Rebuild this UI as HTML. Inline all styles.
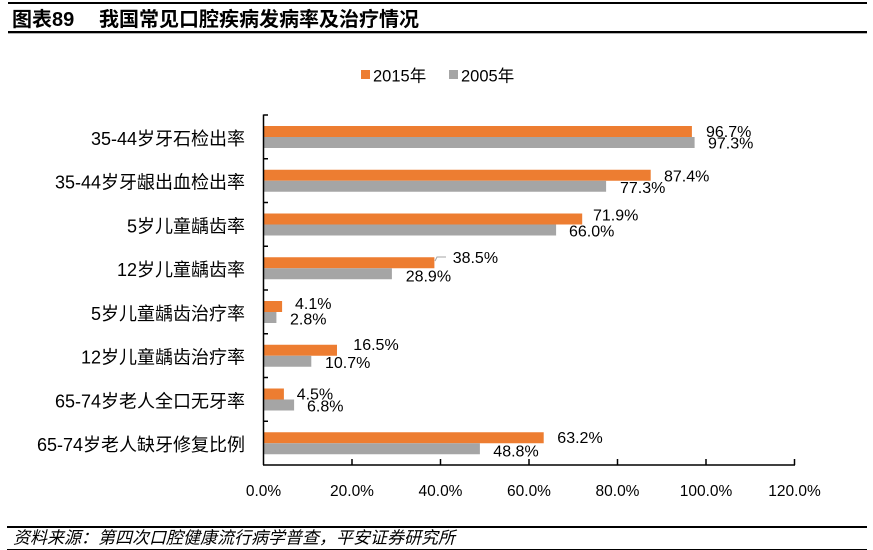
<!DOCTYPE html>
<html>
<head>
<meta charset="utf-8">
<style>
html,body{margin:0;padding:0;background:#fff;}
svg{display:block;}
text{font-family:"Liberation Sans","Noto Sans CJK SC",sans-serif;fill:#000;}
</style>
</head>
<body>
<svg width="873" height="550" viewBox="0 0 873 550" xmlns="http://www.w3.org/2000/svg">
  <!-- header -->
  <rect x="8" y="2" width="859" height="2" fill="#000"/>
  <text x="12" y="26" font-size="20" font-weight="bold">图表89</text>
  <text x="99" y="26" font-size="20" font-weight="bold">我国常见口腔疾病发病率及治疗情况</text>
  <rect x="8" y="31" width="859" height="2.3" fill="#000"/>

  <!-- legend -->
  <rect x="361" y="70" width="9" height="9" fill="#ED7D31"/>
  <text x="373" y="81.5" font-size="16.5">2015年</text>
  <rect x="449" y="70" width="9" height="9" fill="#A5A5A5"/>
  <text x="461" y="81.5" font-size="16.5">2005年</text>

  <!-- bars -->
  <g>
    <rect x="264" y="126" width="427.9" height="11" fill="#ED7D31"/>
    <rect x="264" y="137" width="430.6" height="11" fill="#A5A5A5"/>
    <rect x="264" y="169.75" width="386.7" height="11" fill="#ED7D31"/>
    <rect x="264" y="180.75" width="342.1" height="11" fill="#A5A5A5"/>
    <rect x="264" y="213.5" width="318.2" height="11" fill="#ED7D31"/>
    <rect x="264" y="224.5" width="292.1" height="11" fill="#A5A5A5"/>
    <rect x="264" y="257.25" width="170.4" height="11" fill="#ED7D31"/>
    <rect x="264" y="268.25" width="127.9" height="11" fill="#A5A5A5"/>
    <rect x="264" y="301" width="18.1" height="11" fill="#ED7D31"/>
    <rect x="264" y="312" width="12.4" height="11" fill="#A5A5A5"/>
    <rect x="264" y="344.75" width="73" height="11" fill="#ED7D31"/>
    <rect x="264" y="355.75" width="47.3" height="11" fill="#A5A5A5"/>
    <rect x="264" y="388.5" width="19.9" height="11" fill="#ED7D31"/>
    <rect x="264" y="399.5" width="30.1" height="11" fill="#A5A5A5"/>
    <rect x="264" y="432.25" width="279.7" height="11" fill="#ED7D31"/>
    <rect x="264" y="443.25" width="215.9" height="11" fill="#A5A5A5"/>
  </g>

  <!-- axes -->
  <g stroke="#000" stroke-width="1.5" fill="none">
    <line x1="263.5" y1="114.5" x2="263.5" y2="465"/>
    <line x1="263" y1="465" x2="795" y2="465"/>
    <line x1="263.5" y1="115" x2="268" y2="115"/>
    <line x1="263.5" y1="158.75" x2="268" y2="158.75"/>
    <line x1="263.5" y1="202.5" x2="268" y2="202.5"/>
    <line x1="263.5" y1="246.25" x2="268" y2="246.25"/>
    <line x1="263.5" y1="290" x2="268" y2="290"/>
    <line x1="263.5" y1="333.75" x2="268" y2="333.75"/>
    <line x1="263.5" y1="377.5" x2="268" y2="377.5"/>
    <line x1="263.5" y1="421.25" x2="268" y2="421.25"/>
    <line x1="352" y1="459" x2="352" y2="465"/>
    <line x1="440.5" y1="459" x2="440.5" y2="465"/>
    <line x1="529" y1="459" x2="529" y2="465"/>
    <line x1="617.5" y1="459" x2="617.5" y2="465"/>
    <line x1="706" y1="459" x2="706" y2="465"/>
    <line x1="794.5" y1="459" x2="794.5" y2="465"/>
  </g>

  <!-- leader line for 38.5% -->
  <polyline points="435,261 437,257 446,257" stroke="#A5A5A5" stroke-width="1" fill="none"/>

  <!-- x tick labels -->
  <g font-size="15.5" text-anchor="middle">
    <text x="263.5" y="496">0.0%</text>
    <text x="352" y="496">20.0%</text>
    <text x="440.5" y="496">40.0%</text>
    <text x="529" y="496">60.0%</text>
    <text x="617.5" y="496">80.0%</text>
    <text x="706" y="496">100.0%</text>
    <text x="794.5" y="496">120.0%</text>
  </g>

  <!-- category labels -->
  <g font-size="18" text-anchor="end">
    <text x="245" y="145">35-44岁牙石检出率</text>
    <text x="245" y="188.7">35-44岁牙龈出血检出率</text>
    <text x="245" y="232.4">5岁儿童龋齿率</text>
    <text x="245" y="276.1">12岁儿童龋齿率</text>
    <text x="245" y="319.9">5岁儿童龋齿治疗率</text>
    <text x="245" y="363.6">12岁儿童龋齿治疗率</text>
    <text x="245" y="407.4">65-74岁老人全口无牙率</text>
    <text x="245" y="451.1">65-74岁老人缺牙修复比例</text>
  </g>

  <!-- data labels -->
  <g font-size="16">
    <text x="706" y="137.2">96.7%</text>
    <text x="708" y="148.7">97.3%</text>
    <text x="664" y="181.7">87.4%</text>
    <text x="620" y="193.2">77.3%</text>
    <text x="593" y="220.4">71.9%</text>
    <text x="569" y="236.5">66.0%</text>
    <text x="452.7" y="263.2">38.5%</text>
    <text x="405.7" y="281.5">28.9%</text>
    <text x="295" y="309">4.1%</text>
    <text x="290" y="324.4">2.8%</text>
    <text x="353.3" y="349.9">16.5%</text>
    <text x="325" y="367.9">10.7%</text>
    <text x="296.7" y="399.4">4.5%</text>
    <text x="307" y="411.5">6.8%</text>
    <text x="557.3" y="443.2">63.2%</text>
    <text x="493.3" y="456.5">48.8%</text>
  </g>

  <!-- footer -->
  <rect x="7" y="526" width="860" height="2" fill="#000"/>
  <text x="13" y="543.5" font-size="17" font-style="italic">资料来源：第四次口腔健康流行病学普查，平安证券研究所</text>
  <rect x="7" y="549" width="860" height="1" fill="#000"/>
</svg>
</body>
</html>
